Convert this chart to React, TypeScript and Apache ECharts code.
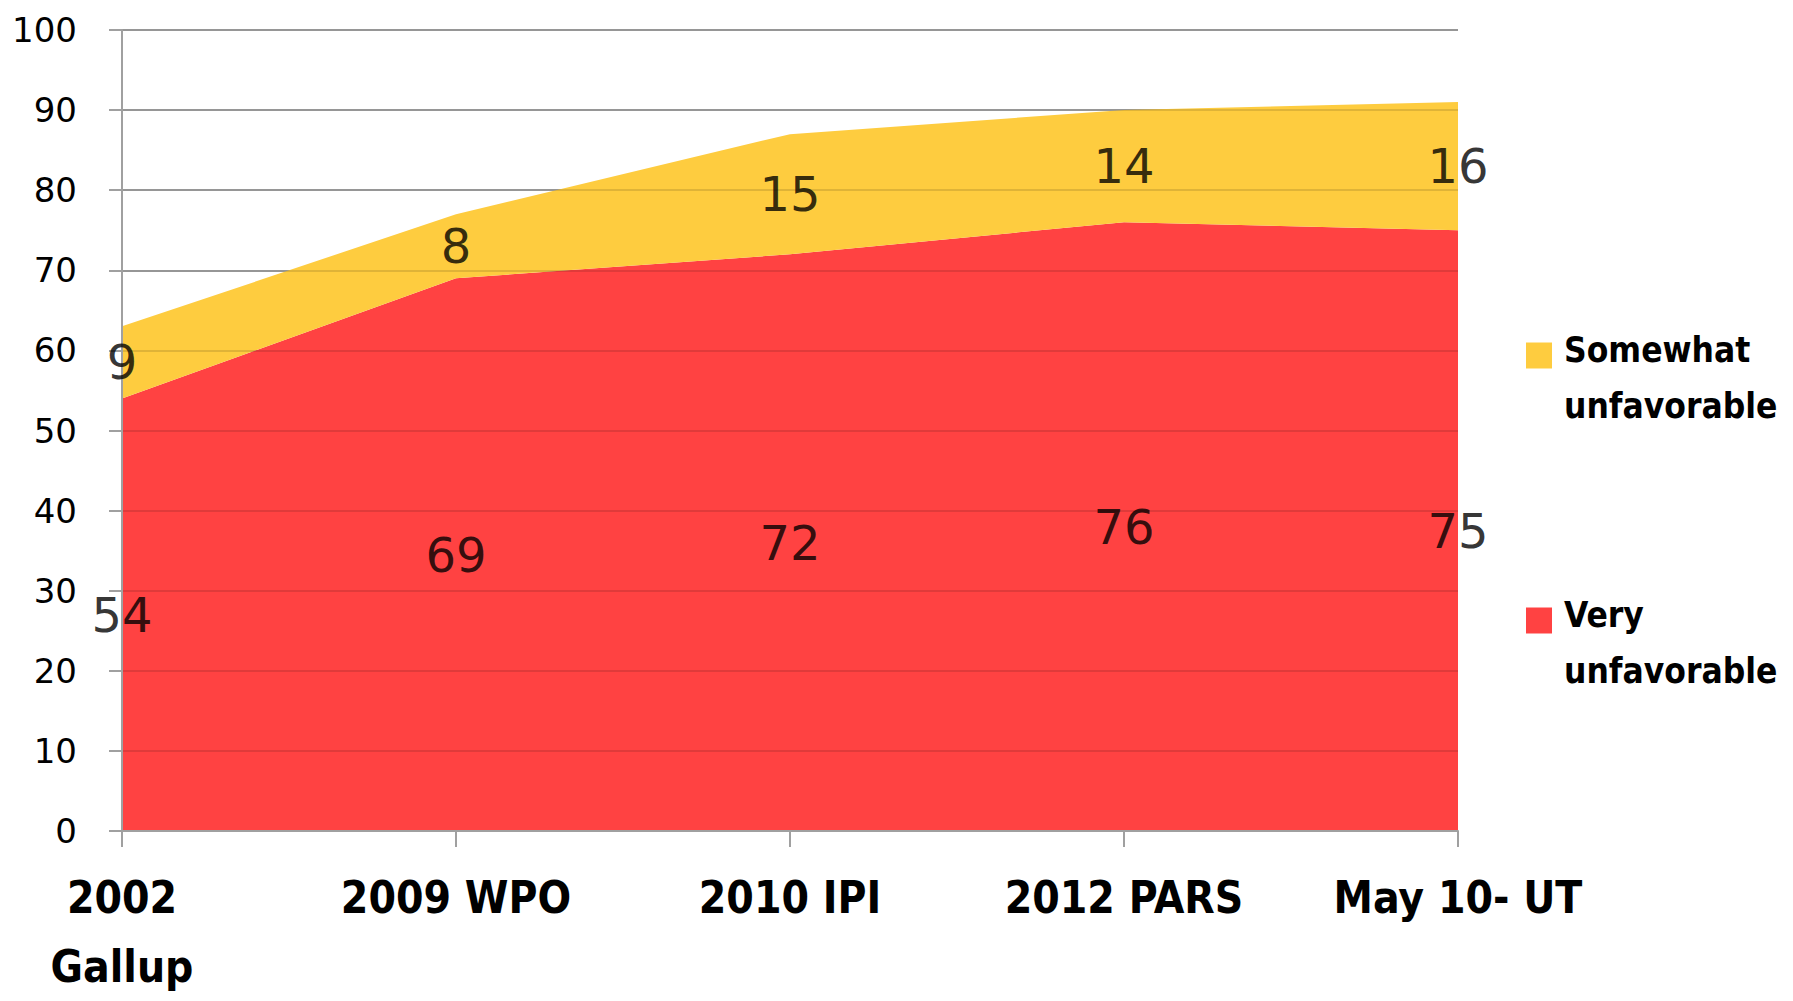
import React, { useEffect, useRef } from "react";
import * as echarts from "echarts";

const categories = ["2002\nGallup", "2009 WPO", "2010 IPI", "2012 PARS", "May 10- UT"];
const veryUnfavorable = [54, 69, 72, 76, 75];
const somewhatUnfavorable = [9, 8, 15, 14, 16];
const seriesNames = ["Somewhat unfavorable", "Very unfavorable"];
const yMin = 0;
const yMax = 100;
const yInterval = 10;

const RED = "#ff4242";
const YELLOW = "#fecc3f";
const GRID_GRAY = "#ababab";
const AXIS_GRAY = "#a0a0a0";

export default function App() {
  const ref = useRef<HTMLDivElement>(null);
  useEffect(() => {
    document.body.style.margin = "0";
    if (!ref.current) return;
    const chart = echarts.init(ref.current, undefined, { renderer: "svg" });
    const veryLabelPts = veryUnfavorable.map((v, i) => [i, v / 2]);
    const somewhatLabelPts = somewhatUnfavorable.map((v, i) => [i, veryUnfavorable[i] + v / 2]);
    const labelStyle = {
      show: true,
      position: "inside",
      fontFamily: "DejaVu Sans",
      fontSize: 48,
      color: "#000",
    };
    const legendFont = {
      fontFamily: "DejaVu Sans Condensed, DejaVu Sans",
      fontWeight: "bold",
      fontSize: 35,
      color: "#000",
    };
    chart.setOption({
      animation: false,
      backgroundColor: "#fff",
      grid: { left: 122, right: 335, top: 30, bottom: 164, containLabel: false },
      legend: {
        orient: "vertical",
        left: 1521,
        top: 277,
        itemWidth: 26,
        itemHeight: 26,
        itemGap: 124,
        icon: "rect",
        data: [seriesNames[0], seriesNames[1]],
        formatter: (n: string) => {
          const parts = n.split(" ");
          return "{s| }\n{t|" + parts[0] + "}\n{t|" + parts.slice(1).join(" ") + "}";
        },
        textStyle: {
          ...legendFont,
          padding: [0, 0, 0, 7],
          rich: {
            s: { ...legendFont, lineHeight: 44 },
            t: { ...legendFont, lineHeight: 56 },
          },
        },
      },
      xAxis: {
        type: "category",
        data: categories,
        boundaryGap: false,
        z: 3,
        axisLine: { show: true, lineStyle: { color: AXIS_GRAY, width: 2 } },
        axisTick: { show: true, length: 16, lineStyle: { color: AXIS_GRAY, width: 2 } },
        axisLabel: {
          margin: 32,
          fontFamily: "DejaVu Sans Condensed, DejaVu Sans",
          fontWeight: "bold",
          fontSize: 44,
          lineHeight: 69,
          color: "#000",
          interval: 0,
        },
        splitLine: { show: false },
      },
      yAxis: [
        {
          type: "value",
          min: yMin,
          max: yMax,
          interval: yInterval,
          position: "left",
          axisLine: { show: false },
          axisTick: { show: true, length: 13, lineStyle: { color: AXIS_GRAY, width: 2 } },
          axisLabel: {
            margin: 45,
            fontFamily: "DejaVu Sans",
            fontSize: 34,
            color: "#000",
            padding: [0, 0, 12, 0],
          },
          splitLine: { show: true, lineStyle: { color: GRID_GRAY, width: 2 } },
        },
        {
          type: "value",
          min: yMin,
          max: yMax,
          interval: yInterval,
          position: "left",
          z: 3,
          axisLine: { show: true, lineStyle: { color: AXIS_GRAY, width: 2 } },
          axisTick: { show: false },
          axisLabel: { show: false },
          splitLine: { show: true, lineStyle: { color: "rgba(0,0,0,0.12)", width: 2 } },
        },
      ],
      series: [
        {
          name: seriesNames[1],
          type: "line",
          stack: "total",
          data: veryUnfavorable,
          symbol: "none",
          color: RED,
          lineStyle: { width: 0, color: RED },
          areaStyle: { color: RED, opacity: 1 },
          z: 2,
        },
        {
          name: seriesNames[0],
          type: "line",
          stack: "total",
          data: somewhatUnfavorable,
          symbol: "none",
          color: YELLOW,
          lineStyle: { width: 0, color: YELLOW },
          areaStyle: { color: YELLOW, opacity: 1 },
          z: 2,
        },
        {
          name: "veryLabels",
          type: "scatter",
          data: veryLabelPts,
          symbolSize: 0,
          z: 5,
          label: { ...labelStyle, formatter: (p: any) => String(veryUnfavorable[p.dataIndex]) },
          silent: true,
        },
        {
          name: "somewhatLabels",
          type: "scatter",
          data: somewhatLabelPts,
          symbolSize: 0,
          z: 5,
          label: { ...labelStyle, formatter: (p: any) => String(somewhatUnfavorable[p.dataIndex]) },
          silent: true,
        },
      ],
    });
    return () => chart.dispose();
  }, []);
  return <div ref={ref} style={{ width: 1793, height: 1001 }} />;
}
